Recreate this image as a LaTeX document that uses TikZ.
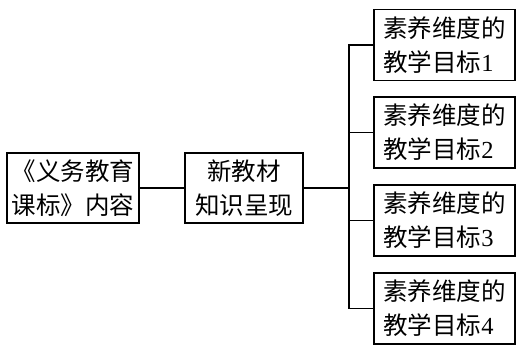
\documentclass[tikz,border=0pt]{standalone}
\usepackage{fontspec}
\setmainfont{Liberation Serif}
\newfontfamily\cjk{Noto Sans CJK SC}
\begin{document}
\begin{tikzpicture}[x=1pt,y=-1pt,
  box/.style={draw,line width=1.4pt,inner sep=0pt,minimum height=70pt,
    font=\fontsize{24.5}{34}\selectfont,align=center},
  goal/.style={box,minimum width=141pt,minimum height=71pt,align=left},
  conn/.style={line width=1.4pt}]
\useasboundingbox (0,0) rectangle (523,346);
\fill[white] (0,0) rectangle (523,346);
\node[box,minimum width=132pt] (b1) at (73,188) {{\cjk 《义务教育}\\{\cjk 课标》内容}};
\node[box,minimum width=118pt] (b2) at (244,188) {{\cjk 新教材}\\{\cjk 知识呈现}};
\node[goal] (r1) at (444.5,45) {{\cjk 素养维度的}\\{\cjk 教学目标}1};
\node[goal] (r2) at (444.5,132.5) {{\cjk 素养维度的}\\{\cjk 教学目标}2};
\node[goal] (r3) at (444.5,220.5) {{\cjk 素养维度的}\\{\cjk 教学目标}3};
\node[goal] (r4) at (444.5,308.5) {{\cjk 素养维度的}\\{\cjk 教学目标}4};
\coordinate (t) at (349,188);
\draw[conn] (b1.east) -- (b2.west);
\draw[conn] (b2.east) -- (t);
\draw[conn] (r1.west) -- (r1.west -| t) -- (r4.west -| t) -- (r4.west);
\draw[conn] (r2.west) -- (r2.west -| t);
\draw[conn] (r3.west) -- (r3.west -| t);
\end{tikzpicture}
\end{document}
